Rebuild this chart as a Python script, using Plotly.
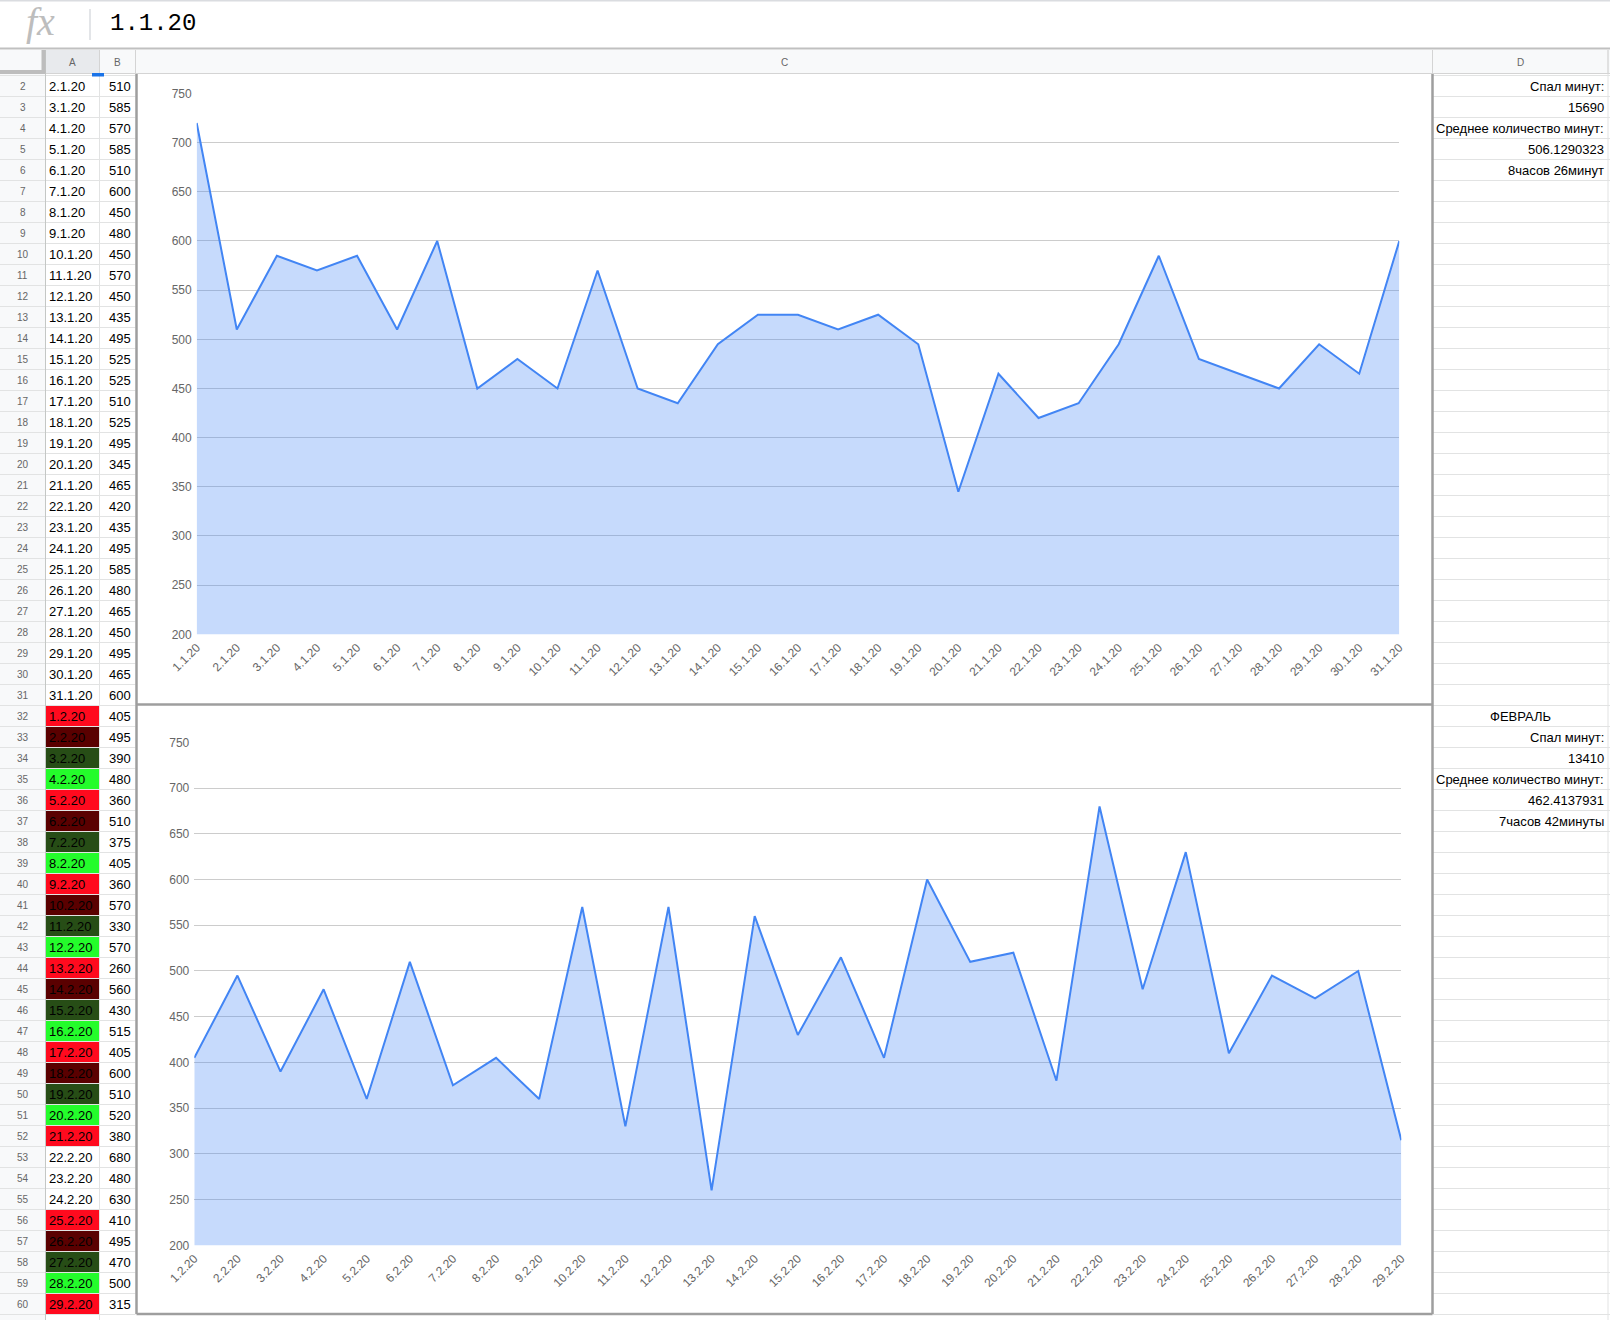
import plotly.graph_objects as go

# ---------------- data ----------------
jan_dates = ["1.1.20", "2.1.20", "3.1.20", "4.1.20", "5.1.20", "6.1.20", "7.1.20", "8.1.20",
             "9.1.20", "10.1.20", "11.1.20", "12.1.20", "13.1.20", "14.1.20", "15.1.20",
             "16.1.20", "17.1.20", "18.1.20", "19.1.20", "20.1.20", "21.1.20", "22.1.20",
             "23.1.20", "24.1.20", "25.1.20", "26.1.20", "27.1.20", "28.1.20", "29.1.20",
             "30.1.20", "31.1.20"]
jan_minutes = [720, 510, 585, 570, 585, 510, 600, 450, 480, 450, 570, 450, 435, 495, 525,
               525, 510, 525, 495, 345, 465, 420, 435, 495, 585, 480, 465, 450, 495, 465, 600]

feb_dates = ["1.2.20", "2.2.20", "3.2.20", "4.2.20", "5.2.20", "6.2.20", "7.2.20", "8.2.20",
             "9.2.20", "10.2.20", "11.2.20", "12.2.20", "13.2.20", "14.2.20", "15.2.20",
             "16.2.20", "17.2.20", "18.2.20", "19.2.20", "20.2.20", "21.2.20", "22.2.20",
             "23.2.20", "24.2.20", "25.2.20", "26.2.20", "27.2.20", "28.2.20", "29.2.20"]
feb_minutes = [405, 495, 390, 480, 360, 510, 375, 405, 360, 570, 330, 570, 260, 560, 430,
               515, 405, 600, 510, 520, 380, 680, 480, 630, 410, 495, 470, 500, 315]

y_ticks = [200, 250, 300, 350, 400, 450, 500, 550, 600, 650, 700, 750]

jan_hours_text = "8часов 26минут"
feb_hours_text = "7часов 42минуты"
feb_title = "ФЕВРАЛЬ"
slept_label = "Спал минут:"
avg_label = "Среднее количество минут:"
formula_text = "1.1.20"
column_letters = ["A", "B", "C", "D"]

# ---------------- styles ----------------
RED, DKRED, DKGREEN, GREEN, NONE = "#ff0a1e", "#5a0000", "#274d16", "#24fc2b", None
feb_fill = [RED, DKRED, DKGREEN, GREEN] * 5 + [RED, NONE, NONE, NONE, RED, DKRED, DKGREEN, GREEN, RED]

SANS = "Liberation Sans, Arial, sans-serif"
W, H = 1610, 1320
HDR_TOP, HDR_BOT = 50, 74
ROW_TOP, ROW_H = 75.5, 21.0
COL_EDGES = [0, 45.5, 99.5, 135.5, 1432.5, 1608]
CHART_MID = 704.5
CHART_BOT = 1314

# plot areas (px)
P1 = dict(x0=196.7, x1=1399.3, y_top=93.5, y_bot=634.3)
P2 = dict(x0=194.3, x1=1401.3, y_top=742.4, y_bot=1245.3)


def dom_x(p):
    return [p["x0"] / W, p["x1"] / W]


def dom_y(p):
    return [1 - p["y_bot"] / H, 1 - p["y_top"] / H]


fig = go.Figure()
# overlay (page) axis: pixel coordinates
fig.add_trace(go.Scatter(x=[W / 2], y=[H / 2], mode="markers", marker=dict(opacity=0),
                         xaxis="x", yaxis="y", hoverinfo="skip", showlegend=False))

BLUE = "#4285f4"
FILL = "rgba(66,133,244,0.30)"
fig.add_trace(go.Scatter(x=jan_dates, y=jan_minutes, xaxis="x2", yaxis="y2", mode="lines",
                         line=dict(color=BLUE, width=2), fill="tozeroy", fillcolor=FILL,
                         showlegend=False))
fig.add_trace(go.Scatter(x=feb_dates, y=feb_minutes, xaxis="x3", yaxis="y3", mode="lines",
                         line=dict(color=BLUE, width=2), fill="tozeroy", fillcolor=FILL,
                         showlegend=False))

shapes = []
ann = []


def rect(x0, y0, x1, y1, color):
    shapes.append(dict(type="rect", xref="x", yref="y", x0=x0, y0=y0, x1=x1, y1=y1,
                       fillcolor=color, line=dict(width=0), layer="above"))


def line(x0, y0, x1, y1, color, width=1):
    shapes.append(dict(type="line", xref="x", yref="y", x0=x0, y0=y0, x1=x1, y1=y1,
                       line=dict(color=color, width=width), layer="above"))


def txt(x, y, s, size=13, color="#000000", xanchor="left", family=SANS):
    ann.append(dict(x=x, y=y, xref="x", yref="y", text=s, showarrow=False, xanchor=xanchor,
                    yanchor="middle", borderpad=0, borderwidth=0,
                    font=dict(size=size, color=color, family=family)))


# backgrounds
rect(0, HDR_TOP, W, HDR_BOT, "#f8f9fa")
rect(COL_EDGES[1], HDR_TOP, COL_EDGES[2], HDR_BOT, "#e8eaed")
rect(0, HDR_BOT, COL_EDGES[1], H, "#f8f9fa")

# rows of the table
all_dates = jan_dates[1:] + feb_dates
all_vals = jan_minutes[1:] + feb_minutes
fills = [NONE] * (len(jan_dates) - 1) + feb_fill
for i, (d, v) in enumerate(zip(all_dates, all_vals)):
    top = ROW_TOP + i * ROW_H
    if fills[i]:
        rect(COL_EDGES[1], top, COL_EDGES[2], top + ROW_H, fills[i])

# grid lines
n_rows = len(all_dates)
for i in range(n_rows + 1):
    y = ROW_TOP + i * ROW_H
    line(0, y, COL_EDGES[3], y, "#e2e3e3", 1)
    line(COL_EDGES[4], y, W, y, "#e2e3e3", 1)
line(COL_EDGES[2], HDR_TOP, COL_EDGES[2], H, "#e2e3e3", 1)
line(COL_EDGES[5], HDR_TOP, COL_EDGES[5], H, "#e2e3e3", 1)
line(COL_EDGES[1], HDR_TOP, COL_EDGES[1], H, "#c4c7c5", 1)
line(COL_EDGES[2], HDR_TOP, COL_EDGES[2], HDR_BOT, "#d4d4d4", 1)
line(COL_EDGES[3], HDR_TOP, COL_EDGES[3], HDR_BOT, "#d4d4d4", 1)
line(COL_EDGES[4], HDR_TOP, COL_EDGES[4], HDR_BOT, "#d4d4d4", 1)
line(COL_EDGES[5], HDR_TOP, COL_EDGES[5], HDR_BOT, "#d4d4d4", 1)
line(0, HDR_BOT - 0.5, W, HDR_BOT - 0.5, "#d4d4d4", 1)
# corner cell thick borders
rect(41.5, HDR_TOP, 45.5, HDR_BOT, "#bdbdbd")
rect(0, HDR_BOT - 4, 45.5, HDR_BOT, "#bdbdbd")
# selection handle
rect(92, 73, 104, 76.5, "#1a73e8")

# formula bar
line(0, 0.8, W, 0.8, "#dadce0", 1.5)
line(0, 48.5, W, 48.5, "#c0c0c0", 2)
line(90, 9, 90, 40, "#dadce0", 1.5)

# chart borders
BORDER = "#9e9e9e"
line(136.5, HDR_BOT, 136.5, CHART_BOT, BORDER, 2.5)
line(1432.5, HDR_BOT, 1432.5, CHART_BOT, BORDER, 2.5)
line(136.5, CHART_MID, 1432.5, CHART_MID, BORDER, 2.5)
line(136.5, CHART_BOT, 1432.5, CHART_BOT, BORDER, 2.5)

# text: formula bar
txt(26, 21, "<i>fx</i>", size=40, color="#bdbdbd", family="Liberation Serif, serif")
txt(110, 23, formula_text, size=24, color="#000000", family="Liberation Mono, monospace")

# column headers
col_centers = [(COL_EDGES[k] + COL_EDGES[k + 1]) / 2 for k in range(1, 5)]
for c, letter in zip(col_centers, column_letters):
    txt(c, (HDR_TOP + HDR_BOT) / 2, letter, size=10, color="#666666", xanchor="center")

# table text
for i, (d, v) in enumerate(zip(all_dates, all_vals)):
    cy = ROW_TOP + i * ROW_H + ROW_H / 2 + 0.5
    txt(22.5, cy, str(i + 2), size=10, color="#666666", xanchor="center")
    txt(COL_EDGES[1] + 3, cy, d, size=13)
    txt(COL_EDGES[3] - 5, cy, str(v), size=13, xanchor="right")

# column D texts
jan_sum = sum(jan_minutes)
feb_sum = sum(feb_minutes)
jan_avg = f"{jan_sum / len(jan_minutes):.7f}"
feb_avg = f"{feb_sum / len(feb_minutes):.7f}"
d_jan = [slept_label, str(jan_sum), avg_label, jan_avg, jan_hours_text]
d_feb = [slept_label, str(feb_sum), avg_label, feb_avg, feb_hours_text]
DX = COL_EDGES[5] - 4
for k, s in enumerate(d_jan):
    txt(DX, ROW_TOP + k * ROW_H + ROW_H / 2 + 0.5, s, size=13, xanchor="right")
feb_row0 = len(jan_dates) - 1
txt((COL_EDGES[4] + COL_EDGES[5]) / 2, ROW_TOP + feb_row0 * ROW_H + ROW_H / 2 + 0.5,
    feb_title, size=13, xanchor="center")
for k, s in enumerate(d_feb):
    txt(DX, ROW_TOP + (feb_row0 + 1 + k) * ROW_H + ROW_H / 2 + 0.5, s, size=13, xanchor="right")

axis_font = dict(family=SANS, size=12, color="#666666")
xcommon = dict(type="category", showgrid=False, zeroline=False, showline=False, ticks="",
               tickangle=-45, tickfont=axis_font, fixedrange=True, automargin=False,
               ticklabelstandoff=3)
ycommon = dict(range=[y_ticks[0], y_ticks[-1]], tickvals=y_ticks, showgrid=True,
               gridcolor="#cccccc", gridwidth=1, zeroline=False, showline=False, ticks="",
               tickfont=axis_font, fixedrange=True, automargin=False, ticklabelstandoff=4)

fig.update_layout(
    template="none",
    width=W, height=H, margin=dict(l=0, r=0, t=0, b=0, pad=0, autoexpand=False), autosize=False,
    paper_bgcolor="#ffffff", plot_bgcolor="rgba(0,0,0,0)", showlegend=False,
    xaxis=dict(domain=[0, 1], range=[0, W], visible=False, fixedrange=True, automargin=False),
    yaxis=dict(domain=[0, 1], range=[H, 0], visible=False, fixedrange=True, automargin=False),
    xaxis2=dict(domain=dom_x(P1), range=[0, len(jan_dates) - 1], anchor="y2", **xcommon),
    yaxis2=dict(domain=dom_y(P1), anchor="x2", **ycommon),
    xaxis3=dict(domain=dom_x(P2), range=[0, len(feb_dates) - 1], anchor="y3", **xcommon),
    yaxis3=dict(domain=dom_y(P2), anchor="x3", **ycommon),
    shapes=shapes, annotations=ann,
)

fig.write_html("out.html", config={"displayModeBar": False},
               post_script="document.body.style.margin='0';document.body.style.overflow='hidden';")
